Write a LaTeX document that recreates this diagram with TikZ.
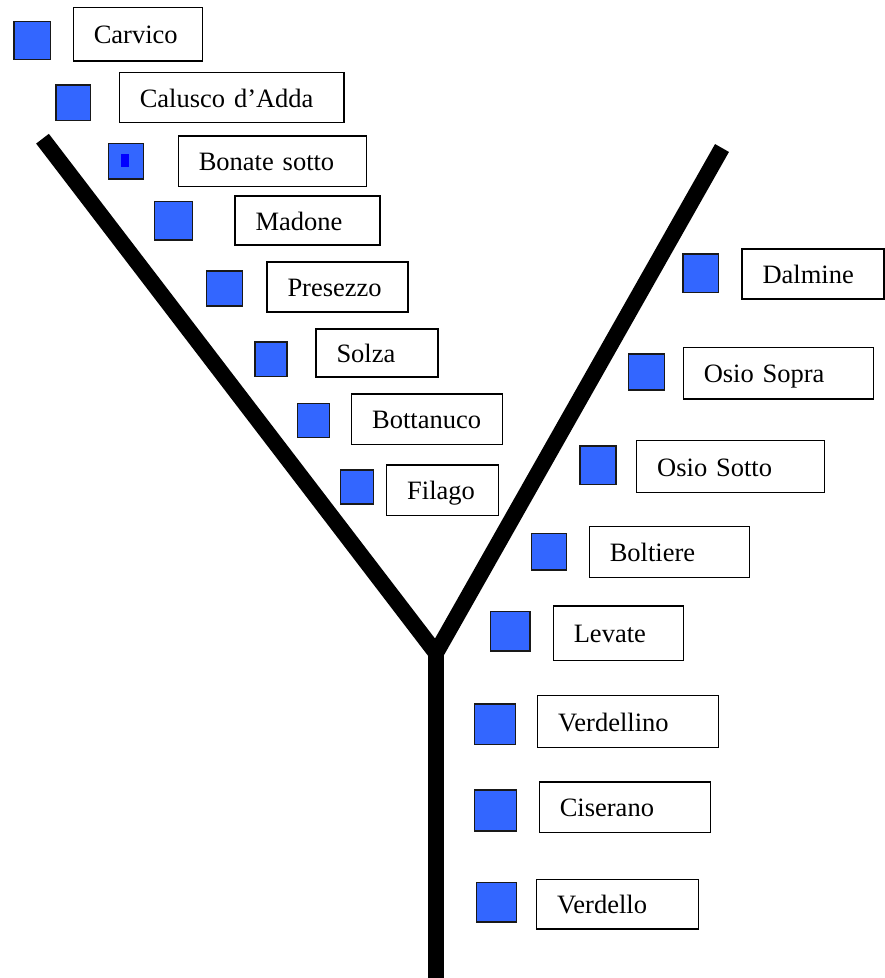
\documentclass[tikz,border=0pt]{standalone}
\usepackage{fontspec}
\setmainfont{Liberation Serif}
\usepackage{tikz}
\usetikzlibrary{positioning,calc}

\definecolor{stopblue}{HTML}{3366FF}

\begin{document}
\begin{tikzpicture}[x=1pt, y=-1pt,
    branch/.style={line width=16pt, line join=miter, black},
    stopsq/.style={draw=black!90, line width=1.3pt, fill=stopblue, inner sep=0pt},
    townbox/.style={draw, line width=1.5pt, fill=white, inner xsep=20.5pt, inner ysep=0pt,
        align=left, text height=19pt, text depth=0pt,
        font=\fontsize{26.5}{30}\selectfont}]
            \useasboundingbox (0,0) rectangle (885,978);

            % the Y of the line
            \coordinate (ltop) at (42.5,138.7);
            \coordinate (rtop) at (722,148);
            \coordinate (fork) at (436,653);
            \coordinate (foot) at (436,978);
            \draw[branch] (ltop) -- (fork) -- (rtop);
            \draw[branch] (fork) -- (foot);

            % stops: square corners, box corners, name
            \foreach \i/\sxa/\sya/\sxb/\syb/\bxa/\bya/\bxb/\byb/\town in {
                1/14/21.7/50.7/59.3/73.3/7.3/202.7/61/Carvico,
                2/56/85/90.7/120.7/119.3/72.3/344/122.7/Calusco d’Adda,
                3/108.3/143.3/143.3/179/178.3/136/366.7/186.7/Bonate sotto,
                4/154.3/201.7/192.7/240/235/196/380/245/Madone,
                5/206.7/271/242.7/306/267/262/408/312/Presezzo,
                6/255/342/287/376.7/316/329/438/377/Solza,
                7/297.7/403.7/329.3/437.7/351.7/394/502.7/444.3/Bottanuco,
                8/340.3/470/373.3/504/386.7/465/498.3/515.7/Filago,
                9/683/254/718.7/292.3/742/249/884/299/Dalmine,
                10/628.7/354/664.3/390/683.3/347.3/873.3/399/Osio Sopra,
                11/580/446/616/484.3/636.7/440.7/824.3/492.7/Osio Sotto,
                12/531.7/533.3/566.7/570/589.3/526.7/749.3/577.3/Boltiere,
                13/490.7/611.7/530/651/553.3/606/683.3/660.7/Levate,
                14/474.3/704/515.7/744.3/537.7/695.7/718.3/747.3/Verdellino,
                15/474.7/790/516.7/831/539.3/782/710.7/832.7/Ciserano,
                16/476.7/882.7/516.3/922/536.7/879.3/698.3/929/Verdello}{
                \pgfmathsetmacro\sw{\sxb-\sxa}
                \pgfmathsetmacro\sh{\syb-\sya}
                \pgfmathsetmacro\bw{\bxb-\bxa}
                \pgfmathsetmacro\bh{\byb-\bya}
                \pgfmathsetmacro\tw{\bw-41}
                \node[stopsq, minimum width=\sw pt, minimum height=\sh pt] (sq\i)
                    at ({(\sxa+\sxb)/2},{(\sya+\syb)/2}) {};
                \node[townbox, minimum width=\bw pt, minimum height=\bh pt, text width=\tw pt] (box\i)
                    at ({(\bxa+\bxb)/2},{(\bya+\byb)/2}) {\town};
            }

            \node[fill=blue, minimum width=8.6pt, minimum height=13pt, inner sep=0pt] (bonatedot) at (125,160.8) {};
        \end{tikzpicture}
\end{document}
